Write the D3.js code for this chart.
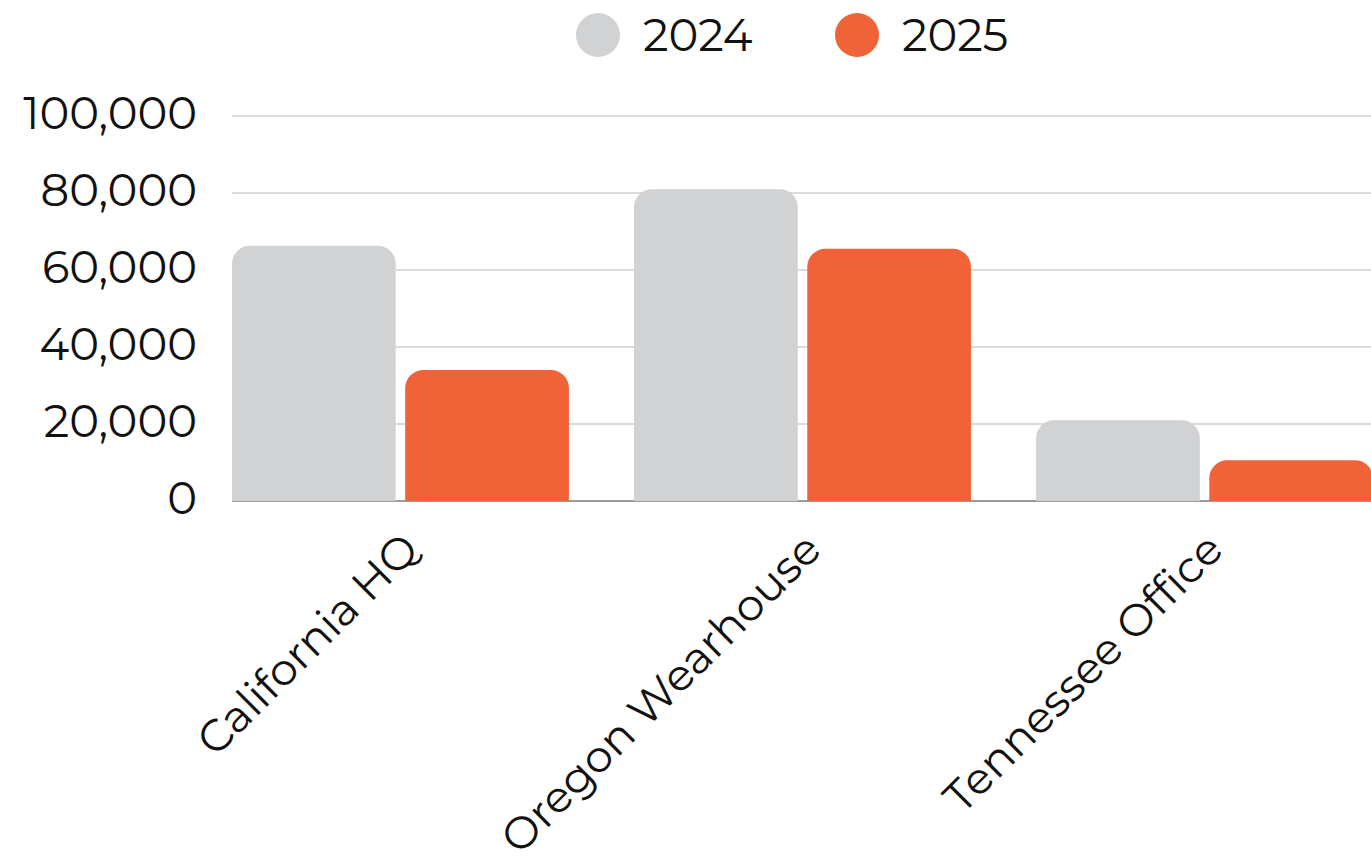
<!DOCTYPE html>
<html>
<head>
<meta charset="utf-8">
<script src="https://cdn.jsdelivr.net/npm/d3@7"></script>
<style>
  html, body { margin: 0; padding: 0; background: #fff; }
  svg { display: block; }
  text { font-family: "Montserrat", "Noto Sans", sans-serif; fill: #111; }
</style>
</head>
<body>
<svg id="chart" width="1371" height="857"></svg>
<script>
// Sites and yearly totals
const categories = ["California HQ", "Oregon Wearhouse", "Tennessee Office"];
const seriesNames = ["2024", "2025"];
const values2024 = [66300, 81000, 21000];
const values2025 = [34000, 65500, 10600];
const yTicks = [0, 20000, 40000, 60000, 80000, 100000];
const seriesColors = ["#d1d2d4", "#f06339"];

const svg = d3.select("#chart");
const W = 1371, H = 857;
const margin = { top: 116, right: -2, bottom: 356, left: 232 };
const innerW = W - margin.left - margin.right;
const innerH = H - margin.top - margin.bottom;

const rows = categories.map((c, i) => ({ cat: c, vals: [values2024[i], values2025[i]] }));

const x0 = d3.scaleBand().domain(categories).range([0, innerW]).paddingInner(0.162).paddingOuter(0);
const x1 = d3.scaleBand().domain(seriesNames).range([0, x0.bandwidth()]).paddingInner(0.055);
const y = d3.scaleLinear().domain([0, 100000]).range([innerH, 0]);

const g = svg.append("g").attr("transform", `translate(${margin.left},${margin.top})`);

// Horizontal gridlines
g.append("g")
  .selectAll("line")
  .data(yTicks.filter(t => t > 0))
  .join("line")
  .attr("x1", 0).attr("x2", W - margin.left)
  .attr("y1", d => y(d)).attr("y2", d => y(d))
  .attr("stroke", "#cfcfcf").attr("stroke-width", 1.5);

// Baseline
g.append("line")
  .attr("x1", 0).attr("x2", W - margin.left)
  .attr("y1", y(0)).attr("y2", y(0))
  .attr("stroke", "#7a7a7a").attr("stroke-width", 1.5);

// Y axis labels
const yAxis = d3.axisLeft(y).tickValues(yTicks).tickSize(0).tickPadding(35)
  .tickFormat(d3.format(","));
const ya = g.append("g").call(yAxis);
ya.select(".domain").remove();
ya.selectAll("text")
  .attr("font-size", 45)
  .attr("dy", "0.28em")
  .style("font-family", '"Montserrat", "Noto Sans", sans-serif')
  .attr("fill", "#111");

// Bars with rounded top corners
function topRoundedRect(x, yTop, w, h, r) {
  r = Math.min(r, w / 2, h);
  return `M${x},${yTop + h}` +
    `V${yTop + r}` +
    `A${r},${r} 0 0 1 ${x + r},${yTop}` +
    `H${x + w - r}` +
    `A${r},${r} 0 0 1 ${x + w},${yTop + r}` +
    `V${yTop + h}Z`;
}

const groups = g.append("g").selectAll("g")
  .data(rows)
  .join("g")
  .attr("transform", d => `translate(${x0(d.cat)},0)`);

groups.selectAll("path")
  .data(d => d.vals.map((v, i) => ({ key: seriesNames[i], v, i })))
  .join("path")
  .attr("d", d => topRoundedRect(x1(d.key), y(d.v), x1.bandwidth(), y(0) - y(d.v), 18))
  .attr("fill", d => seriesColors[d.i]);

// Category labels, rotated
g.append("g").selectAll("text")
  .data(categories)
  .join("text")
  .attr("transform", d => `translate(${x0(d) + x0.bandwidth() / 2 + 21},${y(0) + 51}) rotate(-45)`)
  .attr("text-anchor", "end")
  .attr("font-size", 44)
  .text(d => d);

// Legend
const legend = svg.append("g");
const legendX = [598, 857];
const items = legend.selectAll("g")
  .data(seriesNames)
  .join("g")
  .attr("transform", (d, i) => `translate(${legendX[i]},35)`);
items.append("circle").attr("r", 22).attr("fill", (d, i) => seriesColors[i]);
items.append("text")
  .attr("x", 45).attr("dy", "0.35em")
  .attr("font-size", 45)
  .text(d => d);
</script>
</body>
</html>
